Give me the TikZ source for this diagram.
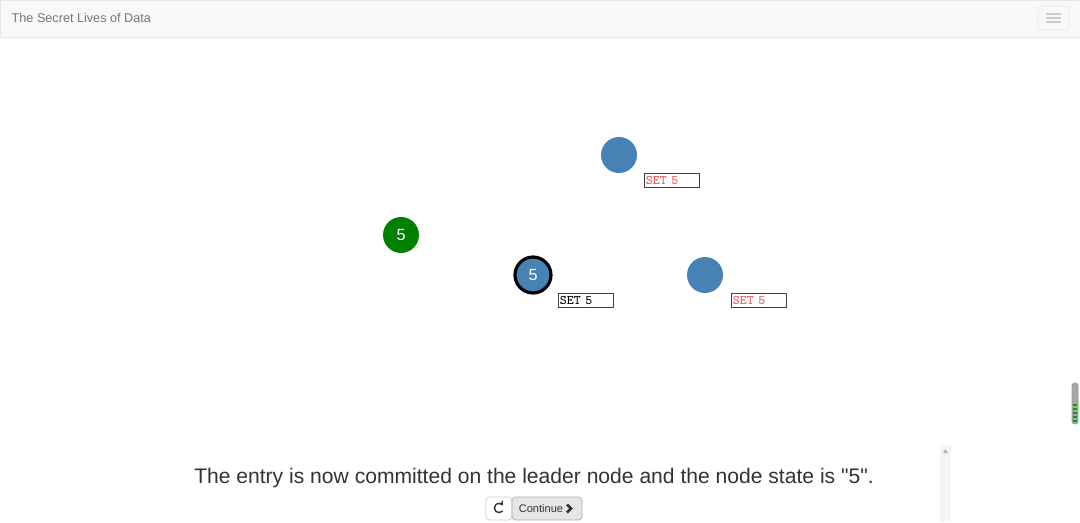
\documentclass[tikz,border=0pt]{standalone}
\usepackage{fontspec}
\setmainfont{Liberation Sans}[Ligatures=TeXOff]
\usetikzlibrary{arrows.meta}
\definecolor{navfill}{RGB}{248,248,248}
\definecolor{navline}{RGB}{231,231,231}
\definecolor{titlegray}{RGB}{119,119,119}
\definecolor{nodeblue}{RGB}{70,130,180}
\definecolor{leadgreen}{RGB}{0,128,0}
\definecolor{logred}{RGB}{245,85,85}
\definecolor{textdark}{RGB}{51,51,51}
\definecolor{btnline}{RGB}{204,204,204}
\definecolor{btnfill}{RGB}{230,230,230}

\begin{document}
\begin{tikzpicture}[x=0.02cm, y=-0.02cm, >=Stealth,
    server/.style={circle, fill=nodeblue, minimum size=0.72cm, inner sep=0pt, text=white, font=\fontsize{9.2}{9.2}\selectfont},
    logbox/.style={draw=black!75, line width=0.5pt, anchor=north west, minimum height=0.28cm, text width=1.04cm, inner xsep=0.03cm, inner ysep=0pt, align=left, font=\ttfamily\fontsize{7.5}{7.5}\selectfont}]
    \useasboundingbox (0,0) rectangle (1080,522);

    % Top bar
    \draw[navline, fill=navfill] (0,0) rectangle (1080,37);
    \node[anchor=west, text=titlegray, font=\fontsize{7.2}{7.2}\selectfont] (title) at (5.5,18) {The Secret Lives of Data};
    \draw[navline, fill=navfill, rounded corners=2pt] (1038,6) rectangle (1069,30);
    \foreach \y in {14,18,22} {
        \draw[btnline, line width=1.2pt] (1046,\y) -- (1061,\y);
    }

    % Nodes
    \node[server] (s1) at (619,155) {};
    \node[server, fill=leadgreen] (s2) at (401,235) {5};
    \node[server, draw=black, line width=1.8pt] (s3) at (533,275) {5};
    \node[server] (s4) at (705,275) {};

    % Logs
    \node[logbox, text=logred] (log1) at (644,173) {SET 5};
    \node[logbox] (log3) at (558,293) {SET 5};
    \node[logbox, text=logred] (log4) at (731,293) {SET 5};

    % Side scroll handle
    \draw[gray!80, fill=gray!70, rounded corners=1.5pt] (1072,383) rectangle (1078,424);
    \foreach \y in {405,409,413,417,421} {
        \draw[green!65!black, line width=1.2pt] (1073,\y) -- (1077,\y);
    }

    % Caption panel
    \fill[gray!8] (940,445) rectangle (951,522);
    \fill[gray!60] (943,453) -- (948,453) -- (945.5,449) -- cycle;
    \node[text=textdark, font=\fontsize{12}{12}\selectfont] (caption) at (534,478) {The entry is now committed on the leader node and the node state is "5".};

    % Buttons
    \draw[btnline, fill=white, rounded corners=2pt] (486,497) rectangle (512,520);
    \draw[black!80, line width=0.8pt, -{Stealth[length=2.4pt,width=3.4pt]}] (499,508) ++(40:4.6) arc (40:325:4.6);
    \draw[btnline!85!black, fill=btnfill, rounded corners=2pt] (512,497) rectangle (582,520);
    \node[text=textdark, font=\fontsize{6.3}{6.3}\selectfont] (cont) at (541,508.5) {Continue};
    \draw[textdark, line width=1.5pt] (567,504.5) -- (571,508.5) -- (567,512.5);
\end{tikzpicture}
\end{document}
